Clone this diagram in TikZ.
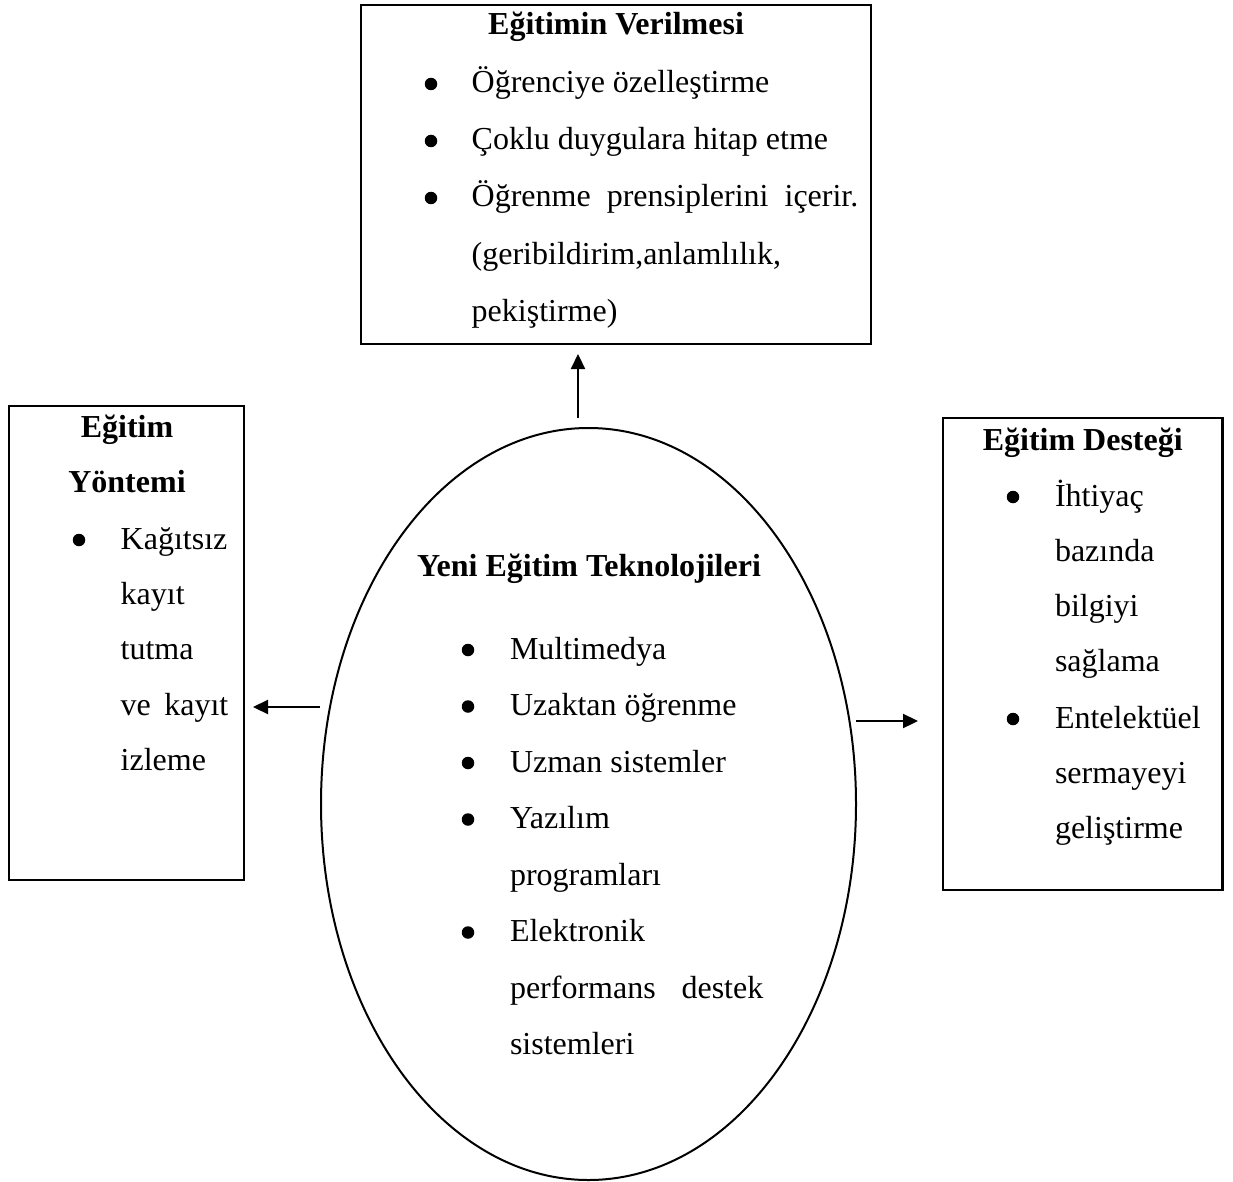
\documentclass[tikz,border=0pt]{standalone}
\usepackage{fontspec}
\setmainfont{Liberation Serif}
\usetikzlibrary{arrows.meta,shapes.geometric}
\begin{document}
\begin{tikzpicture}[x=1pt,y=-1pt,
 box/.style={draw, line width=2.6pt, inner sep=0pt, outer sep=0pt},
 oval/.style={draw, ellipse, line width=2pt, inner sep=0pt, outer sep=0pt},
 txt/.style={anchor=base west, inner sep=0pt, outer sep=0pt, font=\fontsize{32}{38}\selectfont},
 ttl/.style={anchor=base, inner sep=0pt, outer sep=0pt, font=\fontsize{32}{38}\selectfont\bfseries},
 dot/.style={circle, fill, inner sep=0pt, minimum size=12.5pt},
 conn/.style={line width=2.2pt, -{Triangle[length=15pt,width=14pt]}}]
\useasboundingbox (0,0) rectangle (1233,1182);
% boxes
\node[box, minimum width=510pt, minimum height=339pt] (top) at (616,174.5) {};
\node[box, minimum width=235pt, minimum height=474pt] (left) at (126.5,643) {};
\node[box, minimum width=279.5pt, minimum height=472pt] (right) at (1082.75,654) {};
\node[oval, minimum width=535pt, minimum height=752pt] (ell) at (588.5,804) {};
% top box text
\node[ttl] (tt) at (616,35) {Eğitimin Verilmesi};
\node[dot] (tb1) at (431,84) {};
\node[dot] (tb2) at (431,141) {};
\node[dot] (tb3) at (431,198) {};
\node[txt] (t1) at (471.7,93) {Öğrenciye özelleştirme};
\node[txt] (t2) at (471.7,150) {Çoklu duygulara hitap etme};
\node[txt] (t3) at (471.7,207) {\makebox[386.6pt][s]{Öğrenme prensiplerini içerir.}};
\node[txt] (t4) at (471.7,264) {(geribildirim,anlamlılık,};
\node[txt] (t5) at (471.7,321) {pekiştirme)};
% left box text
\node[ttl] (lt1) at (127,437) {Eğitim};
\node[ttl] (lt2) at (127,492) {Yöntemi};
\node[dot] (lb1) at (79,540) {};
\node[txt] (l1) at (120.7,549) {Kağıtsız};
\node[txt] (l2) at (120.7,604) {kayıt};
\node[txt] (l3) at (120.7,659) {tutma};
\node[txt] (l4) at (120.7,715) {\makebox[107.6pt][s]{ve kayıt}};
\node[txt] (l5) at (120.7,770) {izleme};
% right box text
\node[ttl] (rt) at (1082.75,450) {Eğitim Desteği};
\node[dot] (rb1) at (1013,497) {};
\node[dot] (rb2) at (1013,719) {};
\node[txt] (r1) at (1055,506) {İhtiyaç};
\node[txt] (r2) at (1055,561) {bazında};
\node[txt] (r3) at (1055,616) {bilgiyi};
\node[txt] (r4) at (1055,671) {sağlama};
\node[txt] (r5) at (1055,728) {Entelektüel};
\node[txt] (r6) at (1055,783) {sermayeyi};
\node[txt] (r7) at (1055,838) {geliştirme};
% ellipse text
\node[ttl] (et) at (589,576) {Yeni Eğitim Teknolojileri};
\node[dot] (eb1) at (468,650) {};
\node[dot] (eb2) at (468,706.5) {};
\node[dot] (eb3) at (468,763) {};
\node[dot] (eb4) at (468,819.5) {};
\node[dot] (eb5) at (468,932.5) {};
\node[txt] (e1) at (510,659) {Multimedya};
\node[txt] (e2) at (510,715.5) {Uzaktan öğrenme};
\node[txt] (e3) at (510,772) {Uzman sistemler};
\node[txt] (e4) at (510,828.5) {Yazılım};
\node[txt] (e5) at (510,885) {programları};
\node[txt] (e6) at (510,941.5) {Elektronik};
\node[txt] (e7) at (510,998) {\makebox[253.3pt][s]{performans destek}};
\node[txt] (e8) at (510,1054.5) {sistemleri};
% connectors
\coordinate (upt) at (578,418);
\coordinate (lft) at (320,707);
\coordinate (rgt) at (856,721);
\draw[conn, shorten >=10pt] (upt) -- (top.south -| upt);
\draw[conn, shorten >=9pt] (lft) -- (left.east |- lft);
\draw[conn, shorten >=25pt] (rgt) -- (right.west |- rgt);
\end{tikzpicture}
\end{document}
